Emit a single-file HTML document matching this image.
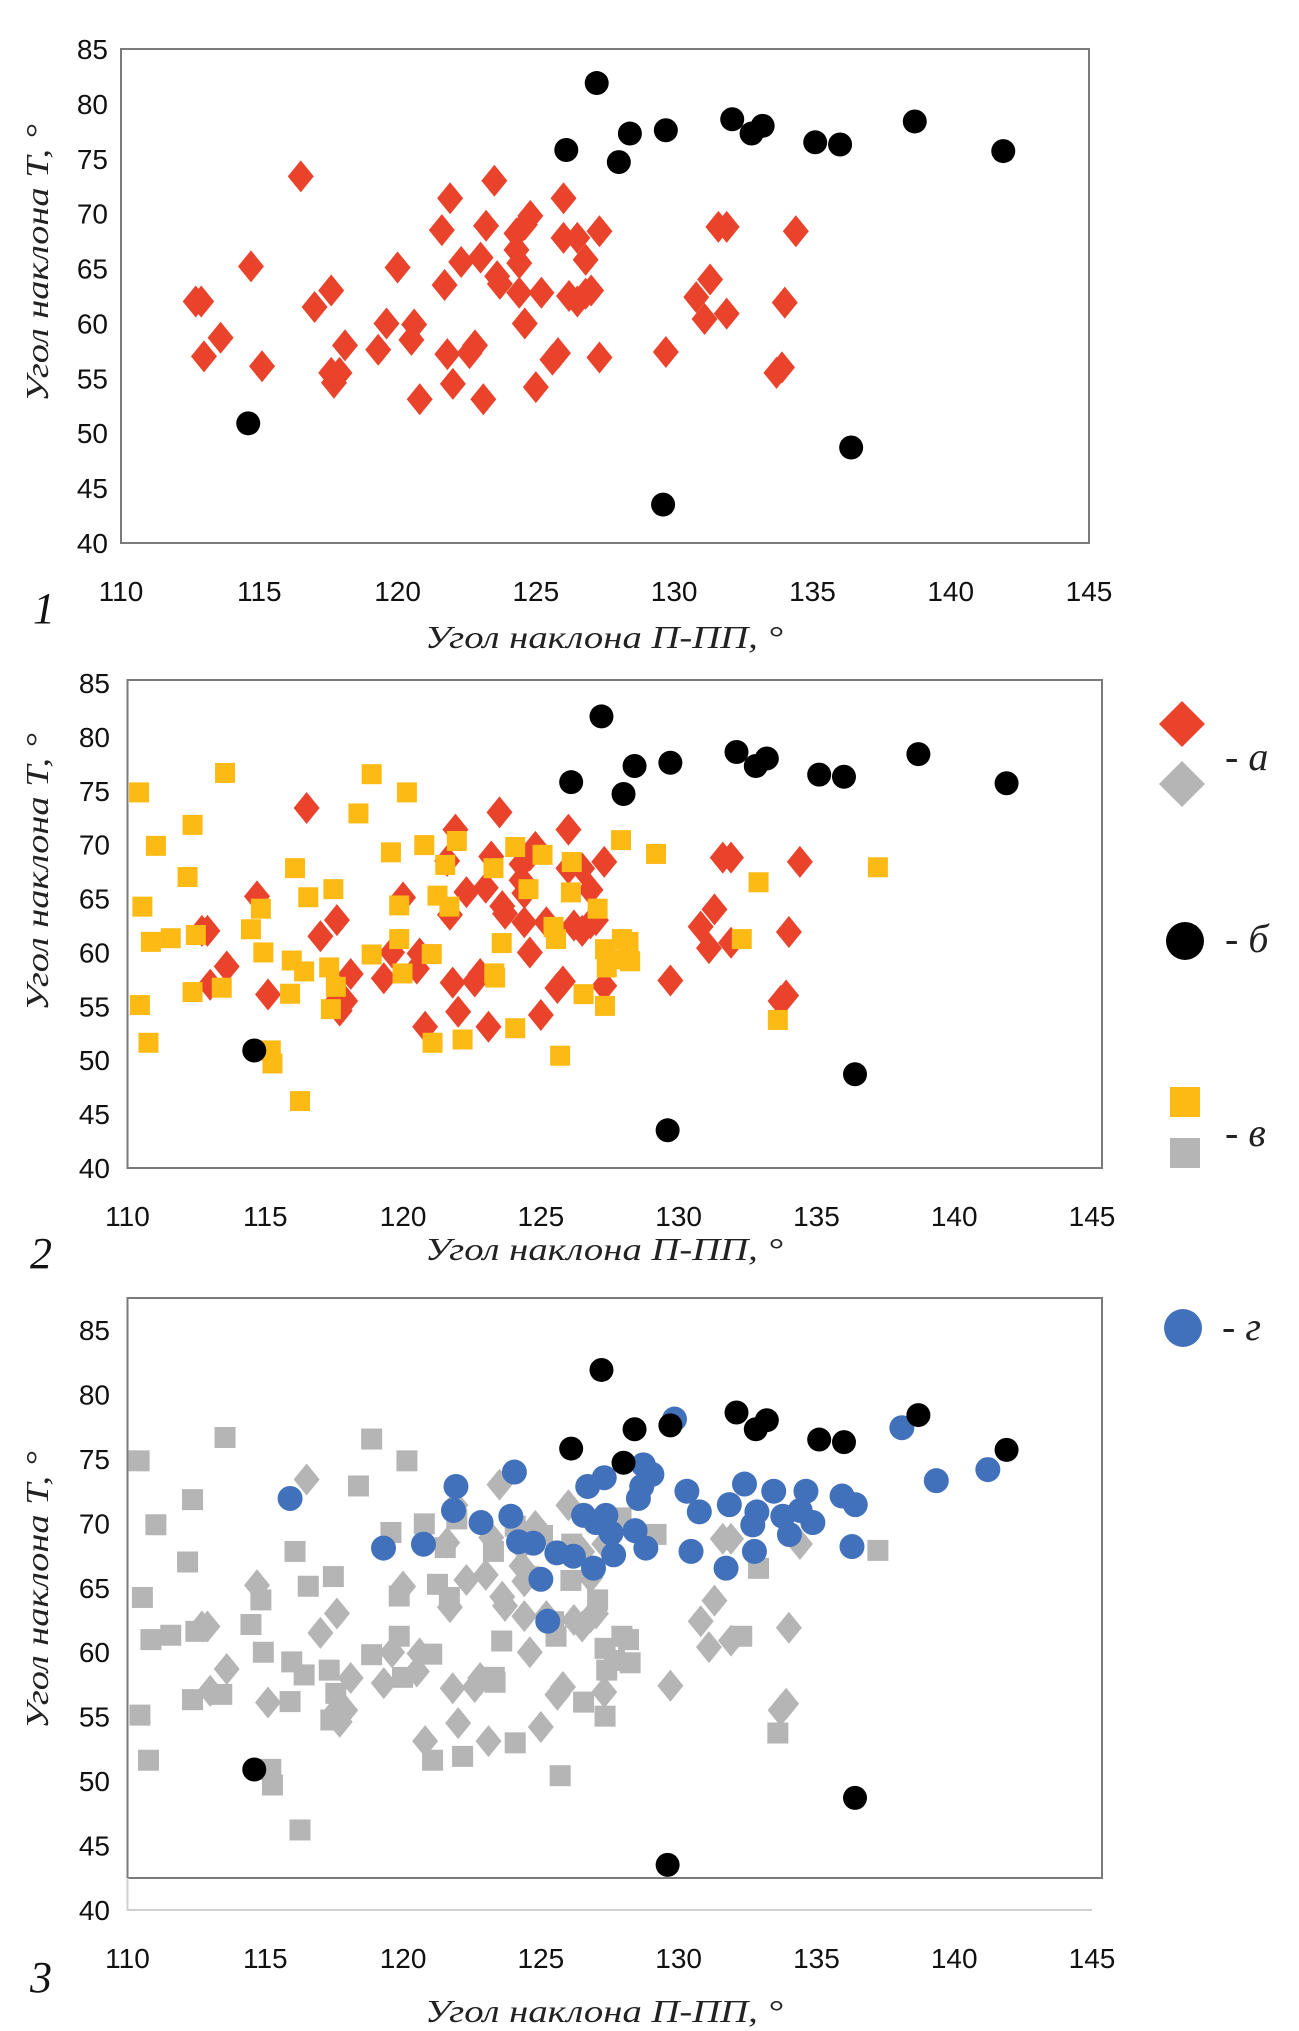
<!DOCTYPE html>
<html><head><meta charset="utf-8">
<style>
html,body{margin:0;padding:0;background:#fff;}
svg{display:block;}
.tick{font-family:"Liberation Sans",sans-serif;font-size:28px;fill:#111;}
.title{font-family:"Liberation Serif","Noto Serif CJK SC",serif;font-style:italic;font-size:32px;fill:#222;}
.num{font-family:"Liberation Serif",serif;font-style:italic;font-size:44px;fill:#111;}
</style></head>
<body>
<svg id="fig" width="1299" height="2031" viewBox="0 0 1299 2031" xmlns="http://www.w3.org/2000/svg"></svg>
<script>
// ---- data ----
const groupAX = [112.7,112.9,113,113.6,114.7,115.1,116.5,117,117.6,117.6,117.7,117.9,118.1,119.3,119.6,120,120.5,120.6,120.8,121.6,121.7,121.8,121.9,122,122.3,122.6,122.8,123,123.1,123.2,123.5,123.6,123.7,124.3,124.3,124.4,124.4,124.6,124.6,124.8,125,125.2,125.6,125.8,126,126,126.2,126.5,126.5,126.8,126.8,127,127.3,127.3,129.7,130.8,131.1,131.3,131.6,131.9,131.9,133.7,133.9,134.0,134.4];
const groupAY = [62,62,57,58.7,65.2,56.1,73.4,61.5,63,55.5,54.6,55.5,58,57.6,60,65.1,58.5,59.9,53.1,68.5,63.5,57.2,71.4,54.5,65.6,57.3,58,66,53.1,68.9,73,64.3,63.6,68.2,66.7,65.5,62.8,60,69,69.8,54.2,62.8,56.7,57.3,71.4,67.8,62.5,62,67.8,65.8,62.7,63,68.4,56.9,57.4,62.4,60.4,64,68.8,68.8,60.9,55.5,56,61.9,68.4];
const groupBX = [114.6,126.1,127.2,128,128.4,129.7,129.6,132.1,132.8,133.2,135.1,136,136.4,138.7,141.9];
const groupBY = [50.9,75.8,81.9,74.7,77.3,77.6,43.5,78.6,77.3,78,76.5,76.3,48.7,78.4,75.7];
const groupVX = [110.42,110.54,110.45,110.76,110.85,111.03,111.57,112.18,112.36,112.36,112.48,113.42,113.54,114.48,114.84,114.93,115.2,115.26,115.9,115.96,116.08,116.26,116.41,116.56,117.32,117.38,117.47,117.56,118.38,118.86,118.86,119.56,119.86,119.86,119.98,120.14,120.77,121.04,121.07,121.25,121.53,121.68,121.95,122.16,123.28,123.31,123.34,123.58,124.07,124.07,124.55,125.06,125.46,125.55,125.7,126.09,126.12,126.55,127.06,127.33,127.33,127.39,127.67,127.91,127.94,128.18,128.24,129.18,132.29,132.9,133.6,137.23];
const groupVY = [74.85,64.25,55.12,51.62,60.98,69.89,61.32,67,71.84,56.32,61.62,56.73,76.66,62.15,64.06,60,50.91,49.7,56.17,59.25,67.82,46.21,58.24,65.12,58.61,54.74,65.87,56.81,72.9,76.54,59.81,69.29,64.36,61.24,58.05,74.85,69.96,59.85,51.62,65.27,68.12,64.25,70.34,51.92,67.82,58.05,57.67,60.87,52.97,69.78,65.87,69.06,62.37,61.24,50.42,65.57,68.39,56.13,64.06,60.3,55.04,58.61,59.36,70.42,61.24,60.98,59.18,69.14,61.24,66.51,53.73,67.9];
const groupGX = [115.9,119.29,120.74,121.83,121.92,122.83,124.04,123.91,124.19,124.73,125.0,125.25,125.58,126.18,126.55,126.7,126.91,127.0,127.3,127.36,127.55,127.64,128.42,128.54,128.66,128.72,128.81,129.03,129.85,130.3,130.45,130.75,131.72,131.84,132.39,132.69,132.75,132.84,133.45,133.78,134.02,134.62,134.41,134.87,135.93,136.29,136.41,138.1,139.35,141.22];
const groupGY = [71.93,68.08,68.38,71,72.86,70.06,73.98,70.55,68.57,68.46,65.66,62.41,67.71,67.45,70.62,72.86,66.52,70.06,73.54,70.62,69.24,67.56,69.43,71.93,72.86,74.54,68.08,73.8,78.09,72.49,67.82,70.89,66.52,71.45,73.05,69.88,67.82,70.89,72.49,70.55,69.13,72.49,71,70.06,72.12,68.2,71.45,77.42,73.31,74.17];
const xTicks = [110,115,120,125,130,135,140,145];
const yTicks = [40,45,50,55,60,65,70,75,80,85];
const xTitle = "Угол наклона П-ПП, °";
const yTitle = "Угол наклона Т, °";

const RED="#e9432b", YEL="#fdb914", GRAY="#b5b5b5", BLUE="#4271bb", BLK="#000";
const NS="http://www.w3.org/2000/svg";
const svg=document.getElementById('fig');
function mk(tag,attrs,parent){const e=document.createElementNS(NS,tag);for(const k in attrs)e.setAttribute(k,attrs[k]);(parent||svg).appendChild(e);return e;}

const panels=[
 {id:1,x0:121,x1:1089,yTop:49,yBot:543,frame:[121,49,1089,543],tickY:601,titleY:648,ylabX:108,yTitleC:263,num:[33,623]},
 {id:2,x0:127.5,x1:1092,yTop:683,yBot:1168,frame:[127.5,680,1102,1168],tickY:1226,titleY:1260,ylabX:110,yTitleC:872,num:[30,1268]},
 {id:3,x0:127.5,x1:1092,yTop:1330,yBot:1910,frame:[127.5,1298,1102,1878],tickY:1968,titleY:2022,ylabX:110,yTitleC:1590,num:[30,1992]}
];

function diamond(g,cx,cy,hw,hh,fill){
  const p=mk('polygon',{points:`${cx},${cy-hh} ${cx+hw},${cy} ${cx},${cy+hh} ${cx-hw},${cy}`,fill:fill},g);
  
  
}
function square(g,cx,cy,s,fill){
  const r=mk('rect',{x:cx-s/2,y:cy-s/2,width:s,height:s,fill:fill},g);
  
  
}
function circle(g,cx,cy,r,fill){
  const c=mk('ellipse',{cx:cx,cy:cy,rx:r,ry:r,fill:fill},g);
  
  
}

panels.forEach(P=>{
  const g=mk('g',{});
  
  
  const sx=v=>P.x0+(v-110)/35*(P.x1-P.x0);
  const sy=v=>P.yBot-(v-40)/45*(P.yBot-P.yTop);
  const f=P.frame;
  const fr=mk('rect',{x:f[0],y:f[1],width:f[2]-f[0],height:f[3]-f[1],fill:'none',stroke:'#7a7a7a','stroke-width':2},g);
  
  
  if(P.id===3){
    const ax=mk('path',{d:`M${f[0]},${f[3]} L${f[0]},${sy(40)} L${P.x1},${sy(40)}`,fill:'none',stroke:'#d0d0d0','stroke-width':2},g);
    
    
  }
  xTicks.forEach(t=>{
    const e=mk('text',{x:sx(t),y:P.tickY,'text-anchor':'middle',class:'tick'},g);
    e.textContent=t;
    
    
  });
  yTicks.forEach(t=>{
    const e=mk('text',{x:P.ylabX,y:sy(t)+10,'text-anchor':'end',class:'tick'},g);
    e.textContent=t;
    
    
  });
  const xt=mk('text',{x:604,y:P.titleY,'text-anchor':'middle',class:'title',textLength:358,lengthAdjust:'spacingAndGlyphs'},g);
  xt.textContent=xTitle;
  
  
  const yt=mk('text',{x:0,y:0,'text-anchor':'middle',class:'title',textLength:278,lengthAdjust:'spacingAndGlyphs',transform:`translate(48,${P.yTitleC}) rotate(-90)`},g);
  yt.textContent=yTitle;
  
  
  const n=mk('text',{x:P.num[0],y:P.num[1],class:'num'},g);
  n.textContent=String(P.id);
  
  

  if(P.id===1){
    groupAX.forEach((v,i)=>diamond(g,sx(v),sy(groupAY[i]),13,16,RED));
  } else if(P.id===2){
    groupAX.forEach((v,i)=>diamond(g,sx(v),sy(groupAY[i]),13,16,RED));
    groupVX.forEach((v,i)=>square(g,sx(v),sy(groupVY[i]),20,YEL));
  } else {
    groupAX.forEach((v,i)=>diamond(g,sx(v),sy(groupAY[i]),13,16,GRAY));
    groupVX.forEach((v,i)=>square(g,sx(v),sy(groupVY[i]),21,GRAY));
    groupGX.forEach((v,i)=>circle(g,sx(v),sy(groupGY[i]),12.5,BLUE));
  }
  groupBX.forEach((v,i)=>circle(g,sx(v),sy(groupBY[i]),12,BLK));
});

// legend
const lg=mk('g',{});


diamond(lg,1182,724,23,23,RED);
diamond(lg,1182,784,23,23,GRAY);
circle(lg,1185,941,19,BLK);
square(lg,1185,1102,30,YEL);
square(lg,1185,1153,30,GRAY);
circle(lg,1183,1328,19,BLUE);
[["- а",1225,770],["- б",1225,952],["- в",1225,1146],["- г",1222,1340]].forEach(d=>{
  const t=mk('text',{x:d[1],y:d[2],class:'title'},lg);
  t.setAttribute('style','font-size:40px');
  t.textContent=d[0];
  
  
});
</script>
</body></html>
